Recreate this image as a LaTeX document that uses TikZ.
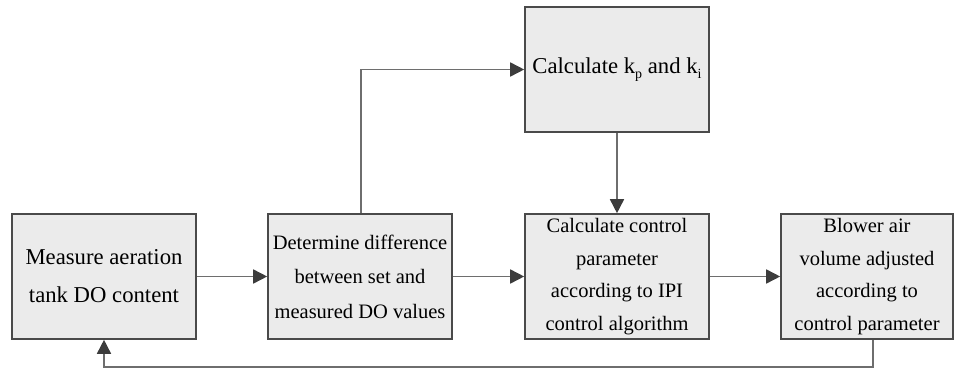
\documentclass[tikz,border=0pt]{standalone}
\usepackage{fontspec}
\setmainfont{Liberation Serif}
\usetikzlibrary{arrows.meta}
\definecolor{boxfill}{HTML}{EBEBEB}
\definecolor{boxline}{HTML}{4A4A4A}
\definecolor{conn}{HTML}{6E6E6E}
\definecolor{tipc}{HTML}{3C3C3C}
\tikzset{
  stepbox/.style={draw=boxline, fill=boxfill, line width=1.6pt, minimum height=125pt, inner sep=0pt, align=center, text=black},
  bigtext/.style={font=\fontsize{22.7}{38}\selectfont},
  smalltext/.style={font=\fontsize{20.5}{34.5}\selectfont},
  flow/.style={draw=conn, line width=1.6pt, -{Triangle[length=14pt,width=14pt,color=tipc]}},
}
\begin{document}
\begin{tikzpicture}[x=1pt,y=-1pt]
\useasboundingbox (0,0) rectangle (954,369);
\node[stepbox, bigtext, minimum width=184pt] (meas) at (104,276.5) {Measure aeration\\tank DO content};
\node[stepbox, smalltext, minimum width=184pt] (diff) at (360,276.5) {Determine difference\\between set and\\measured DO values};
\node[stepbox, bigtext, minimum width=184pt] (kpki) at (617,69.5) {Calculate k\raisebox{-0.5ex}{\fontsize{14}{14}\selectfont p} and k\raisebox{-0.5ex}{\fontsize{14}{14}\selectfont i}};
\node[stepbox, smalltext, minimum width=184pt, font=\fontsize{20.5}{32.5}\selectfont] (calc) at (617,276.5) {Calculate control\\parameter\\according to IPI\\control algorithm};
\node[stepbox, smalltext, minimum width=172pt, font=\fontsize{20.5}{32.5}\selectfont] (blow) at (867,276.5) {Blower air\\volume adjusted\\according to\\control parameter};
\coordinate (up) at (361,69.5);
\coordinate (fb1) at (873,367);
\coordinate (fb2) at (104,367);
\draw[flow] (meas) -- (diff);
\draw[flow] (diff) -- (calc);
\draw[flow] (calc) -- (blow);
\draw[flow] (kpki) -- (calc);
\draw[flow] (diff.north -| up) -- (up) -- (kpki.west);
\draw[flow] (blow.south -| fb1) -- (fb1) -- (fb2) -- (meas.south);
\end{tikzpicture}
\end{document}
